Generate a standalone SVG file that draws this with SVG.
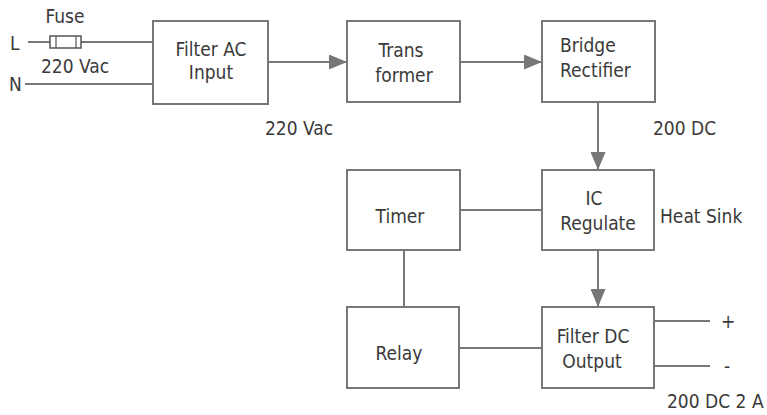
<svg xmlns="http://www.w3.org/2000/svg" width="767" height="415" viewBox="0 0 767 415">
<style>
.box{fill:#fff;stroke:#777;stroke-width:2}
.ln{fill:none;stroke:#777;stroke-width:2}
.t{font-family:"DejaVu Sans Condensed","DejaVu Sans",sans-serif;font-stretch:condensed;font-size:19px;fill:#3a3a3a}
.c{text-anchor:middle}
</style>
<defs>
<marker id="arr" viewBox="0 0 18 15" refX="18" refY="7.5" markerWidth="18" markerHeight="15" markerUnits="userSpaceOnUse" orient="auto">
<path d="M0,0 L18,7.5 L0,15 Z" fill="#777"/>
</marker>
</defs>
<rect width="767" height="415" fill="#fff"/>
<g id="connectors">
<line class="ln" x1="28" y1="42" x2="153" y2="42"/>
<line class="ln" x1="25" y1="84" x2="153" y2="84"/>
<line class="ln" x1="268" y1="62" x2="347" y2="62" marker-end="url(#arr)"/>
<line class="ln" x1="460" y1="62" x2="542" y2="62" marker-end="url(#arr)"/>
<line class="ln" x1="598" y1="102" x2="598" y2="170" marker-end="url(#arr)"/>
<line class="ln" x1="598" y1="250" x2="598" y2="307" marker-end="url(#arr)"/>
<line class="ln" x1="460" y1="210" x2="542" y2="210"/>
<line class="ln" x1="404" y1="250" x2="404" y2="307"/>
<line class="ln" x1="459" y1="348" x2="542" y2="348"/>
<line class="ln" x1="654" y1="321" x2="710" y2="321"/>
<line class="ln" x1="654" y1="366" x2="710" y2="366"/>
</g>
<g id="fuse">
<rect x="50" y="36" width="31" height="12" fill="#fff" stroke="#555" stroke-width="1.5"/>
<line x1="56" y1="36" x2="56" y2="48" stroke="#555" stroke-width="1.2"/>
<line x1="76" y1="36" x2="76" y2="48" stroke="#555" stroke-width="1.2"/>
<text class="t c" x="65" y="23">Fuse</text>
<text class="t" x="10" y="50">L</text>
<text class="t c" x="75" y="73">220 Vac</text>
<text class="t" x="9" y="91">N</text>
</g>
<g id="filter-ac">
<rect class="box" x="153" y="21" width="115" height="83"/>
<text class="t c" x="211" y="56">Filter AC</text>
<text class="t c" x="211" y="79">Input</text>
</g>
<g id="transformer">
<rect class="box" x="347" y="21" width="113" height="81"/>
<text class="t c" x="401" y="57">Trans</text>
<text class="t c" x="404" y="82">former</text>
</g>
<g id="bridge">
<rect class="box" x="542" y="21" width="113" height="81"/>
<text class="t" x="560" y="52">Bridge</text>
<text class="t" x="560" y="77">Rectifier</text>
</g>
<g id="ic">
<rect class="box" x="542" y="170" width="112" height="80"/>
<text class="t c" x="594" y="205">IC</text>
<text class="t c" x="598" y="230">Regulate</text>
</g>
<g id="timer">
<rect class="box" x="347" y="170" width="113" height="80"/>
<text class="t c" x="400" y="223">Timer</text>
</g>
<g id="relay">
<rect class="box" x="347" y="307" width="112" height="81"/>
<text class="t c" x="399" y="360">Relay</text>
</g>
<g id="filter-dc">
<rect class="box" x="542" y="307" width="112" height="81"/>
<text class="t c" x="593" y="343">Filter DC</text>
<text class="t c" x="592" y="368">Output</text>
</g>
<g id="labels">
<text class="t" x="265" y="135">220 Vac</text>
<text class="t" x="653" y="135">200 DC</text>
<text class="t" x="660" y="223">Heat Sink</text>
<text class="t" x="721" y="328">+</text>
<text class="t" x="724" y="373">-</text>
<text class="t" x="667" y="408">200 DC 2 A</text>
</g>
</svg>
